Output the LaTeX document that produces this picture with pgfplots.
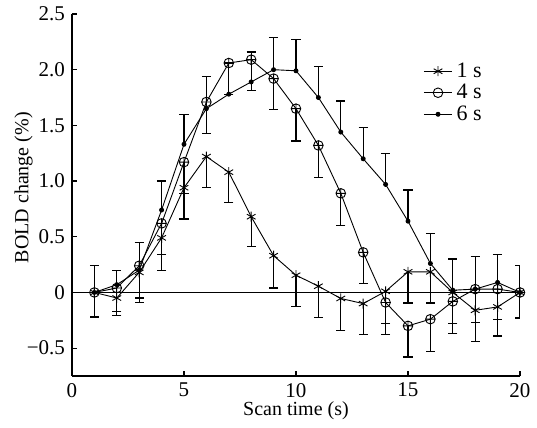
\documentclass[border=0pt]{standalone}
\usepackage{fontspec}
\setmainfont{Liberation Serif}
\usepackage{pgfplots}
\pgfplotsset{compat=1.18}

% one-sided error bars: 1 s and 4 s downward, 6 s upward
\pgfplotstableread{
x y e
1 0 0.22
2 -0.05 0.16
3 0.18 0.27
4 0.49 0.29
5 0.94 0.28
6 1.22 0.28
7 1.08 0.27
8 0.68 0.27
9 0.33 0.29
10 0.155 0.28
11 0.056 0.28
12 -0.054 0.29
13 -0.10 0.28
14 0.01 0.29
15 0.185 0.28
16 0.185 0.28
17 0.0 0.28
18 -0.16 0.28
19 -0.13 0.26
20 0 0.23
}\onesec
\pgfplotstableread{
x y e
1 0 0.22
2 0.04 0.21
3 0.24 0.29
4 0.62 0.28
5 1.17 0.28
6 1.71 0.28
7 2.06 0.28
8 2.09 0.28
9 1.92 0.28
10 1.65 0.29
11 1.32 0.29
12 0.89 0.29
13 0.36 0.28
14 -0.09 0.29
15 -0.30 0.28
16 -0.24 0.29
17 -0.08 0.29
18 0.03 0.30
19 0.03 0.27
20 0 0.23
}\foursec
\pgfplotstableread{
x y e
1 0 0.24
2 0.07 0.13
3 0.20 0.25
4 0.74 0.26
5 1.33 0.27
6 1.65 0.29
7 1.78 0.28
8 1.89 0.27
9 2.00 0.29
10 1.99 0.28
11 1.75 0.28
12 1.44 0.28
13 1.20 0.28
14 0.97 0.28
15 0.64 0.28
16 0.26 0.27
17 0.02 0.28
18 0.03 0.29
19 0.09 0.25
20 0 0.24
}\sixsec

\begin{document}
\begin{tikzpicture}
\begin{axis}[
    at={(0,0)}, anchor=south west,
    scale only axis,
    width=224pt, height=181pt,
    xmin=0, xmax=20, ymin=-0.75, ymax=2.5,
    axis x line*=bottom, axis y line*=left,
    axis line style={line width=0.6pt, -},
    tick align=inside,
    major tick length=2.5pt,
    tick style={line width=0.6pt, black},
    xtick={0,5,10,15,20},
    ytick={-0.5,0,0.5,1,1.5,2,2.5},
    yticklabels={−0.5,0,0.5,1.0,1.5,2.0,2.5},
    /pgf/number format/assume math mode=true,
    tick label style={font=\fontsize{10.5}{12}\selectfont},
    label style={font=\fontsize{11}{13}\selectfont},
    xlabel={Scan time (s)},
    ylabel={BOLD change (\%)},
    every axis x label/.style={at={(axis description cs:0.5,-0.095)}, anchor=center},
    every axis y label/.style={at={(axis description cs:-0.108,0.52)}, rotate=90, anchor=center},
    legend style={draw=none, fill=none, at={(axis cs:15.4,2.14)}, anchor=north west,
        font=\fontsize{11}{13}\selectfont, row sep=-2pt},
    legend cell align=left,
    legend image code/.code={\draw[mark repeat=2,mark phase=2] plot coordinates {(0cm,0cm) (0.25cm,0cm) (0.5cm,0cm)};},
    every axis plot/.append style={black, line width=0.45pt},
    error bars/error bar style={line width=0.65pt},
    error bars/error mark options={rotate=90, mark size=2.3pt, line width=0.65pt},
]
\addplot[forget plot, line width=0.6pt] coordinates {(0,0) (20,0)};

\addplot[mark=asterisk, mark size=2.5pt,
    error bars/.cd, y dir=minus, y explicit]
    table[x=x, y=y, y error=e] {\onesec};
\addlegendentry{1 s}

\addplot[mark=oplus, mark size=2.4pt, mark options={line width=0.45pt},
    legend image post style={mark=o, mark options={fill=white}},
    error bars/.cd, y dir=minus, y explicit]
    table[x=x, y=y, y error=e] {\foursec};
\addlegendentry{4 s}

\addplot[mark=*, mark size=1pt,
    error bars/.cd, y dir=plus, y explicit]
    table[x=x, y=y, y error=e] {\sixsec};
\addlegendentry{6 s}
\end{axis}
\pgfresetboundingbox
\path[use as bounding box] (-36pt,-25.65pt) rectangle (232.5pt,188pt);
\end{tikzpicture}
\end{document}
